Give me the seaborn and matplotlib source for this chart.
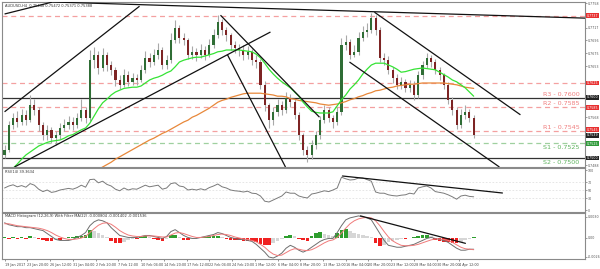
import numpy as np
import pandas as pd
import matplotlib
matplotlib.use("Agg")
import matplotlib.pyplot as plt
import matplotlib.transforms as mtrans
import seaborn as sns

# ---------------- data (AUDUSD H4) ----------------
first_open = 0.7505
closes = [0.7513, 0.7555, 0.7567, 0.7560, 0.7572, 0.7563, 0.7588, 0.7580, 0.7555, 0.7538,
          0.7547, 0.7533, 0.7538, 0.7550, 0.7555, 0.7560, 0.7555, 0.7567, 0.7580, 0.7567,
          0.7663, 0.7672, 0.7650, 0.7672, 0.7655, 0.7647, 0.7630, 0.7622, 0.7638, 0.7627,
          0.7633, 0.7630, 0.7647, 0.7667, 0.7660, 0.7672, 0.7680, 0.7655, 0.7663, 0.7697,
          0.7717, 0.7700, 0.7697, 0.7672, 0.7677, 0.7672, 0.7680, 0.7672, 0.7688, 0.7705,
          0.7727, 0.7713, 0.7705, 0.7688, 0.7683, 0.7680, 0.7672, 0.7677, 0.7663, 0.7660,
          0.7622, 0.7588, 0.7563, 0.7577, 0.7588, 0.7580, 0.7600, 0.7593, 0.7572, 0.7538,
          0.7513, 0.7505, 0.7522, 0.7538, 0.7563, 0.7580, 0.7567, 0.7560, 0.7577, 0.7688,
          0.7693, 0.7672, 0.7677, 0.7700, 0.7710, 0.7713, 0.7733, 0.7713, 0.7667, 0.7663,
          0.7647, 0.7633, 0.7622, 0.7627, 0.7617, 0.7622, 0.7605, 0.7638, 0.7655, 0.7667,
          0.7660, 0.7647, 0.7638, 0.7622, 0.7597, 0.7580, 0.7555, 0.7572, 0.7577, 0.7567,
          0.7538]
highs = [0.7522, 0.7562, 0.7575, 0.7578, 0.7582, 0.7580, 0.7605, 0.7598, 0.7585, 0.7560,
         0.7555, 0.7552, 0.7545, 0.7558, 0.7565, 0.7570, 0.7568, 0.7575, 0.7598, 0.7585,
         0.7680, 0.7685, 0.7678, 0.7683, 0.7676, 0.7662, 0.7652, 0.7638, 0.7648, 0.7645,
         0.7642, 0.7640, 0.7655, 0.7678, 0.7675, 0.7682, 0.7692, 0.7685, 0.7672, 0.7708,
         0.7730, 0.7722, 0.7708, 0.7700, 0.7686, 0.7684, 0.7690, 0.7686, 0.7698, 0.7715,
         0.7738, 0.7732, 0.7718, 0.7708, 0.7695, 0.7690, 0.7688, 0.7686, 0.7682, 0.7672,
         0.7665, 0.7628, 0.7592, 0.7585, 0.7598, 0.7595, 0.7610, 0.7606, 0.7598, 0.7576,
         0.7542, 0.7520, 0.7530, 0.7545, 0.7570, 0.7588, 0.7585, 0.7572, 0.7585, 0.7700,
         0.7705, 0.7698, 0.7688, 0.7710, 0.7720, 0.7725, 0.7742, 0.7738, 0.7718, 0.7675,
         0.7670, 0.7652, 0.7640, 0.7635, 0.7632, 0.7630, 0.7628, 0.7645, 0.7662, 0.7675,
         0.7672, 0.7665, 0.7652, 0.7642, 0.7626, 0.7602, 0.7585, 0.7582, 0.7588, 0.7582,
         0.7572]
lows = [0.7500, 0.7510, 0.7548, 0.7552, 0.7555, 0.7555, 0.7560, 0.7572, 0.7545, 0.7530,
        0.7530, 0.7525, 0.7522, 0.7532, 0.7545, 0.7548, 0.7546, 0.7550, 0.7562, 0.7558,
        0.7562, 0.7650, 0.7640, 0.7645, 0.7645, 0.7638, 0.7620, 0.7615, 0.7618, 0.7620,
        0.7622, 0.7622, 0.7626, 0.7642, 0.7652, 0.7655, 0.7665, 0.7648, 0.7648, 0.7658,
        0.7692, 0.7692, 0.7688, 0.7665, 0.7665, 0.7662, 0.7666, 0.7664, 0.7668, 0.7683,
        0.7700, 0.7705, 0.7695, 0.7680, 0.7675, 0.7670, 0.7664, 0.7665, 0.7655, 0.7650,
        0.7615, 0.7578, 0.7550, 0.7555, 0.7570, 0.7572, 0.7575, 0.7585, 0.7565, 0.7530,
        0.7505, 0.7493, 0.7498, 0.7515, 0.7532, 0.7558, 0.7560, 0.7550, 0.7555, 0.7572,
        0.7680, 0.7665, 0.7668, 0.7672, 0.7695, 0.7702, 0.7708, 0.7705, 0.7660, 0.7655,
        0.7640, 0.7625, 0.7615, 0.7615, 0.7610, 0.7610, 0.7597, 0.7600, 0.7632, 0.7650,
        0.7652, 0.7640, 0.7630, 0.7615, 0.7590, 0.7572, 0.7548, 0.7550, 0.7565, 0.7560,
        0.7533]
green_ma = [0.7463, 0.7473, 0.7483, 0.7490, 0.7498, 0.7505, 0.7510, 0.7515, 0.7520, 0.7523,
            0.7526, 0.7528, 0.7529, 0.7530, 0.7533, 0.7537, 0.7539, 0.7543, 0.7547, 0.7550,
            0.7558, 0.7570, 0.7582, 0.7592, 0.7598, 0.7605, 0.7610, 0.7613, 0.7616, 0.7617,
            0.7618, 0.7618, 0.7620, 0.7625, 0.7630, 0.7633, 0.7635, 0.7638, 0.7642, 0.7645,
            0.7652, 0.7660, 0.7663, 0.7665, 0.7667, 0.7668, 0.7668, 0.7670, 0.7672, 0.7674,
            0.7677, 0.7678, 0.7680, 0.7680, 0.7680, 0.7680, 0.7679, 0.7678, 0.7677, 0.7673,
            0.7667, 0.7658, 0.7648, 0.7640, 0.7633, 0.7627, 0.7622, 0.7617, 0.7610, 0.7603,
            0.7593, 0.7585, 0.7578, 0.7576, 0.7575, 0.7575, 0.7575, 0.7577, 0.7587, 0.7597,
            0.7605, 0.7615, 0.7622, 0.7630, 0.7640, 0.7648, 0.7655, 0.7658, 0.7658, 0.7658,
            0.7655, 0.7652, 0.7648, 0.7643, 0.7644, 0.7646, 0.7648, 0.7649, 0.7650, 0.7649,
            0.7648, 0.7647, 0.7643, 0.7639, 0.7635, 0.7630, 0.7627, 0.7622, 0.7617, 0.7610,
            0.7603]
orange_ma = [None] * 22 + [
    0.7481, 0.7485, 0.7489, 0.7493, 0.7498, 0.7502, 0.7506, 0.7510, 0.7514, 0.7518,
    0.7522, 0.7526, 0.7530, 0.7533, 0.7537, 0.7541, 0.7544, 0.7548, 0.7552, 0.7556,
    0.7560, 0.7563, 0.7568, 0.7571, 0.7575, 0.7579, 0.7583, 0.7588, 0.7593, 0.7596,
    0.7598, 0.7601, 0.7603, 0.7605, 0.7607, 0.7608, 0.7608, 0.7608, 0.7608, 0.7607,
    0.7606, 0.7605, 0.7603, 0.7603, 0.7602, 0.7599, 0.7598, 0.7596, 0.7595, 0.7594,
    0.7593, 0.7592, 0.7590, 0.7589, 0.7588, 0.7589, 0.7590, 0.7592, 0.7594, 0.7597,
    0.7599, 0.7602, 0.7604, 0.7607, 0.7609, 0.7612, 0.7613, 0.7615, 0.7617, 0.7618,
    0.7620, 0.7621, 0.7622, 0.7623, 0.7623, 0.7624, 0.7625, 0.7625, 0.7625, 0.7625,
    0.7625, 0.7625, 0.7624, 0.7623, 0.7622, 0.7620, 0.7618, 0.7617, 0.7616]
rsi = [55, 60, 63, 58, 61, 57, 66, 62, 52, 46,
       50, 44, 46, 50, 52, 54, 52, 56, 62, 57,
       76, 77, 68, 72, 64, 60, 52, 48, 55, 50,
       53, 52, 57, 62, 58, 60, 62, 52, 55, 66,
       68, 60, 58, 50, 52, 50, 53, 50, 56, 60,
       65, 58, 55, 50, 48, 47, 45, 47, 42, 41,
       35, 22, 20, 25, 30, 35, 45, 42, 42, 35,
       32, 30, 40, 42, 45, 48, 46, 50, 55, 82,
       78, 75, 76, 80, 80, 76, 72, 45, 42, 42,
       38, 36, 35, 37, 38, 42, 40, 55, 58, 60,
       55, 46, 44, 42, 38, 33, 27, 35, 37, 34,
       33]
# MACD values in units of 0.0001
macd_main = [21.4, 18.6, 17.3, 15.9, 15.9, 14.5, 14.5, 13.1, 11.7, 10.4,
             6.2, 2.1, -2.1, -3.5, -3.5, -3.5, -2.1, 0.7, 3.5, 7.6,
             17.3, 22.8, 25.5, 24.2, 21.4, 14.5, 9.0, 3.5, 2.1, 0.7,
             0.7, 0.7, 2.1, 3.5, 3.5, 2.1, 0.7, -0.7, 2.1, 9.0,
             11.7, 7.6, 3.5, 0.7, -0.7, -0.7, 0.7, 2.1, 3.5, 4.8,
             7.6, 6.2, 3.5, 0.7, -0.7, -2.1, -2.1, -3.5, -4.8, -9.0,
             -14.5, -20.0, -26.9, -28.3, -25.5, -21.4, -14.5, -10.4, -13.1, -17.3,
             -20.0, -17.3, -13.1, -9.0, -4.8, -2.1, -0.7, -0.7, 7.6, 17.3,
             25.5, 28.3, 29.7, 31.1, 29.7, 28.3, 25.5, 15.9, 6.2, -3.5,
             -10.4, -11.7, -13.1, -13.1, -11.7, -10.4, -9.0, -6.2, -3.5, -0.7,
             0.7, -0.7, -2.1, -3.5, -6.2, -10.4, -14.5, -17.3, -17.3, -15.9,
             -15.9]
macd_signal = [20.0, 20.0, 18.6, 17.3, 16.6, 15.9, 15.2, 14.5, 13.8, 12.4,
               10.4, 7.6, 4.1, 1.4, -0.7, -2.1, -2.1, -1.4, 0.0, 2.1,
               7.6, 13.1, 17.9, 20.7, 21.4, 19.3, 15.2, 10.4, 6.9, 4.1,
               2.8, 2.1, 2.1, 2.8, 2.8, 2.8, 2.1, 1.4, 1.4, 4.1,
               6.9, 7.6, 6.2, 4.1, 2.1, 0.7, 0.7, 1.4, 2.1, 3.5,
               4.8, 5.5, 4.8, 3.5, 1.4, 0.0, -1.4, -2.1, -3.5, -5.5,
               -9.0, -13.1, -18.6, -22.8, -24.8, -24.2, -20.7, -17.3, -15.2, -15.9,
               -17.3, -17.9, -16.6, -13.8, -10.4, -6.9, -4.1, -2.8, 0.7, 6.9,
               13.8, 20.0, 24.2, 26.9, 28.3, 29.0, 28.3, 24.2, 17.3, 9.0,
               1.4, -4.1, -7.6, -10.4, -11.0, -11.0, -10.4, -9.0, -6.9, -4.8,
               -2.8, -1.4, -1.4, -2.1, -3.5, -6.2, -9.7, -13.1, -15.2, -15.9,
               -16.6]
macd_hist = [1.4, -1.4, 1.4, -1.4, 1.4, -1.4, 2.8, 1.4, -1.4, -2.8,
             -4.1, -4.1, -2.8, -2.8, -1.4, 1.4, 1.4, 2.8, 2.8, 4.1,
             11.0, 9.7, 6.9, 4.1, 1.4, -4.1, -6.9, -6.9, -5.5, -2.8,
             -1.4, -1.4, 1.4, 2.8, 1.4, -1.4, -2.8, -4.1, -1.4, 4.1,
             4.1, 1.4, -2.8, -2.8, -1.4, 0.0, 1.4, 1.4, 2.8, 2.8,
             2.8, 1.4, -1.4, -2.8, -2.8, -2.8, -4.1, -4.1, -4.1, -5.5,
             -8.3, -9.7, -9.7, -6.9, -4.1, -1.4, 2.8, 4.1, 2.8, -1.4,
             -2.8, -4.1, 2.8, 6.9, 8.3, 5.5, 4.1, 2.8, 6.9, 11.0,
             12.4, 9.7, 6.9, 5.5, 4.1, 2.8, 1.4, -6.9, -11.0, -9.7,
             -5.5, -4.1, -2.8, -1.4, -1.4, 0.0, 1.4, 2.8, 4.1, 4.1,
             2.8, -2.8, -4.1, -5.5, -5.5, -6.9, -6.9, -5.5, -2.8, -1.4,
             1.4]
time_labels = ["19 Jan 2017", "23 Jan 20:00", "26 Jan 12:00", "31 Jan 04:00", "2 Feb 20:00",
               "7 Feb 12:00", "10 Feb 04:00", "14 Feb 20:00", "17 Feb 12:00", "22 Feb 04:00",
               "24 Feb 20:00", "1 Mar 12:00", "6 Mar 04:00", "8 Mar 20:00", "13 Mar 12:00",
               "16 Mar 04:00", "20 Mar 20:00", "23 Mar 12:00", "28 Mar 04:00", "30 Mar 20:00",
               "4 Apr 12:00"]
bars_per_label = 16 / 3  # one candle here = three H4 bars

level_names = ["R3", "R2", "R1", "S1", "S2"]
level_values = [0.7600, 0.7585, 0.7545, 0.7525, 0.7500]
extra_red_levels = [0.7737, 0.7625]
last_price = 0.7539

# trend lines: (candle index, price) pairs
price_trends = [((0.0, 0.7740), (11.25, 0.7760)),
                ((11.25, 0.7760), (136.7, 0.7733)),
                ((0.0, 0.7577), (31.65, 0.7753)),
                ((2.34, 0.7485), (62.35, 0.7710)),
                ((50.63, 0.7738), (73.84, 0.7568)),
                ((52.27, 0.7672), (65.87, 0.7485)),
                ((86.73, 0.7743), (120.96, 0.7572)),
                ((80.87, 0.7660), (116.03, 0.7485))]
rsi_trend = ((79.23, 85.0), (116.74, 42.5))
macd_trend = ((83.45, 31.1), (108.06, -7.6))

price_ticks = [0.7758, 0.7717, 0.7696, 0.7675, 0.7653, 0.7568, 0.7488]

# ---------------- figure ----------------
sns.set_theme(style="white")
plt.rcParams["font.family"] = ["DejaVu Sans"]

W, H = 600, 269
fig = plt.figure(figsize=(W / 100, H / 100), dpi=100)
fig.patch.set_facecolor("white")


def px_axes(x0, y0, x1, y1):
    return fig.add_axes([x0 / W, 1 - y1 / H, (x1 - x0) / W, (y1 - y0) / H])


ax = px_axes(2, 2, 585, 167)
ax_rsi = px_axes(2, 168, 585, 212)
ax_macd = px_axes(2, 213, 585, 259)

n = len(closes)
x = np.arange(n)
c = np.array(closes)
o = np.array([first_open] + closes[:-1])
hi = np.array(highs)
lo = np.array(lows)

XMIN, XMAX = -0.6, 136.1
for a in (ax, ax_rsi, ax_macd):
    a.set_xlim(XMIN, XMAX)
    a.set_facecolor("white")
    for s in a.spines.values():
        s.set_color("#8a8a8a")
        s.set_linewidth(0.8)
    a.yaxis.tick_right()
    a.tick_params(axis="y", labelsize=2.3, length=1.2, width=0.4, pad=0.8,
                  colors="#555555", right=True, left=False)
    a.grid(False)

# ---- main panel ----
ax.set_ylim(0.7485, 0.7760)
for lv in extra_red_levels:
    ax.axhline(lv, color="#f4a0a0", lw=0.9, ls=(0, (4, 3)), zorder=1)
level_colors = {"R3": "#222222", "R2": "#f4a0a0", "R1": "#f4a0a0", "S1": "#9fd09f", "S2": "#222222"}
for name, lv in zip(level_names, level_values):
    if name in ("R3", "S2"):
        ax.axhline(lv, color="#333333", lw=0.9, zorder=1)
    else:
        ax.axhline(lv, color=level_colors[name], lw=0.9, ls=(0, (4, 3)), zorder=1)
ax.axhline(last_price, color="#dddddd", lw=0.6, zorder=1)

# candles
ax.vlines(x, lo, hi, color="#a9a9a9", lw=0.8, zorder=2)
body_bottom = np.minimum(o, c)
body_h = np.maximum(np.abs(c - o), 0.00006)
body_col = np.where(c >= o, "#2f6d35", "#7d2424")
ax.bar(x, body_h, bottom=body_bottom, width=0.5, color=body_col, lw=0, zorder=3)

# moving averages
ma_df = pd.DataFrame({"x": x, "green": green_ma,
                      "orange": pd.to_numeric(pd.Series(orange_ma), errors="coerce")})
sns.lineplot(data=ma_df, x="x", y="orange", ax=ax, color="#e8883a", lw=0.9, zorder=4)
sns.lineplot(data=ma_df, x="x", y="green", ax=ax, color="#35e335", lw=0.9, zorder=4)

# trend lines
for (x0, y0), (x1, y1) in price_trends:
    ax.plot([x0, x1], [y0, y1], color="#111111", lw=0.9, zorder=5, solid_capstyle="butt")

# level texts
label_x = 134.8
for name, lv in zip(level_names, level_values):
    col = "#f07f7f" if name.startswith("R") else "#5fb35f"
    va = "bottom" if name.startswith("R") else "top"
    dy = 0.00022 if name.startswith("R") else -0.00035
    ax.text(label_x, lv + dy, f"{name} - {lv:.4f}", color=col, fontsize=4.6,
            ha="right", va=va, zorder=6)

# right-axis ticks and coloured price boxes
ax.set_yticks(price_ticks)
ax.set_yticklabels([f"{t:.4f}" for t in price_ticks])
trans = mtrans.blended_transform_factory(ax.transAxes, ax.transData)
boxes = [(0.7737, 0.7737, "#e83030"), (0.7625, 0.7625, "#e83030"), (0.7600, 0.7601, "#222222"),
         (0.7585, 0.7584, "#e83030"), (0.7545, 0.7547, "#e83030"), (last_price, 0.7538, "#222222"),
         (0.7525, 0.7524, "#2f9a3a"), (0.7500, 0.7500, "#222222")]
for lv, ypos, col in boxes:
    ax.text(1.003, ypos, f"{lv:.4f}", transform=trans, fontsize=2.3, color="white",
            ha="left", va="center", clip_on=False,
            bbox=dict(boxstyle="square,pad=0.12", fc=col, ec="none"))
ax.set_xticks([])
ax.set_xlabel("")
ax.set_ylabel("")
ax.text(0.006, 0.985, "AUDUSD,H4  0.75448 0.75472 0.75371 0.75388", transform=ax.transAxes,
        fontsize=2.6, color="#333333", va="top", ha="left")

# ---- RSI panel ----
ax_rsi.set_ylim(-5, 105)
for lv in (70, 50, 30):
    ax_rsi.axhline(lv, color="#e2e2e2", lw=0.6, ls=(0, (2, 2)))
rsi_df = pd.DataFrame({"x": x, "rsi": rsi})
sns.lineplot(data=rsi_df, x="x", y="rsi", ax=ax_rsi, color="#7a7a7a", lw=0.7)
(rx0, ry0), (rx1, ry1) = rsi_trend
ax_rsi.plot([rx0, rx1], [ry0, ry1], color="#111111", lw=0.9)
ax_rsi.set_yticks([0, 30, 50, 70, 100])
ax_rsi.set_yticklabels(["0", "30", "50", "70", "100"])
ax_rsi.set_xticks([])
ax_rsi.set_xlabel("")
ax_rsi.set_ylabel("")
ax_rsi.text(0.006, 0.95, "RSI(14) 39.3634", transform=ax_rsi.transAxes, fontsize=2.6,
            color="#333333", va="top", ha="left")

# ---- MACD panel ----
scale = 1e-4
h = np.array(macd_hist)
prev = np.concatenate([[h[0]], h[:-1]])
hist_col = np.where(h >= 0, np.where(h >= prev, "#2e9e2e", "#d6d6d6"),
                    np.where(h <= prev, "#f02020", "#d6d6d6"))
ax_macd.set_ylim(-29.7 * scale, 35.2 * scale)
ax_macd.bar(x, h * scale, width=0.85, color=hist_col, lw=0, zorder=2)
macd_df = pd.DataFrame({"x": x, "main": np.array(macd_main) * scale,
                        "signal": np.array(macd_signal) * scale})
sns.lineplot(data=macd_df, x="x", y="main", ax=ax_macd, color="#6e6e6e", lw=0.7, zorder=3)
sns.lineplot(data=macd_df, x="x", y="signal", ax=ax_macd, color="#f07a7a", lw=0.7, zorder=3)
(mx0, my0), (mx1, my1) = macd_trend
ax_macd.plot([mx0, mx1], [my0 * scale, my1 * scale], color="#111111", lw=0.9, zorder=4)
ax_macd.set_yticks([0.002965, 0.0, -0.002624])
ax_macd.set_yticklabels(["0.0030", "0.00", "-0.0026"])
ax_macd.text(0.006, 0.97, "MACD Histogram (12,26,9) With Filter MA(22) -0.000804 -0.001402 -0.001536",
             transform=ax_macd.transAxes, fontsize=2.6, color="#333333", va="top", ha="left")
ax_macd.set_xlabel("")
ax_macd.set_ylabel("")
tick_pos = [i * bars_per_label for i in range(len(time_labels))]
ax_macd.set_xticks(tick_pos)
ax_macd.set_xticklabels(time_labels)
ax_macd.tick_params(axis="x", labelsize=2.45, length=1.5, width=0.4, pad=1.5,
                    colors="#444444", bottom=True)
for lbl in ax_macd.get_xticklabels():
    lbl.set_ha("left")

fig.savefig("out.png", dpi=100, facecolor="white")
